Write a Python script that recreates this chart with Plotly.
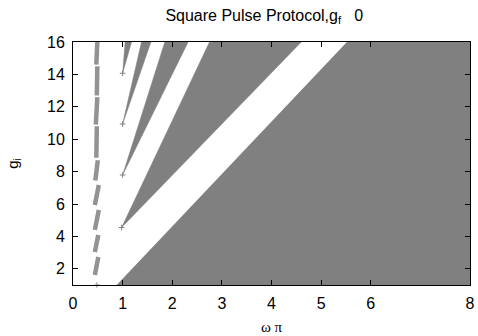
import plotly.graph_objects as go

# wedge regions: tip (x, g) and top edges at g = 16
wedge_tip_x = [1.0, 1.0, 1.0, 0.98]
wedge_tip_g = [14.07, 10.94, 7.79, 4.55]
wedge_top_left = [1.05, 1.38, 1.85, 2.75]
wedge_top_right = [1.18, 1.57, 2.32, 4.60]

# large region at right: lower-left start and top-left edge
big_start = (0.88, 1.0)
big_top_left = 5.52

# jagged column near w/pi ~ 0.45: segments (x_bottom, g_bottom, x_top, g_top)
col_x0 = [0.44, 0.44, 0.44, 0.44, 0.45, 0.47, 0.46, 0.48, 0.47]
col_g0 = [1.62, 3.04, 4.40, 5.94, 7.45, 8.85, 10.9, 12.7, 14.6]
col_x1 = [0.51, 0.51, 0.52, 0.52, 0.50, 0.48, 0.49, 0.49, 0.49]
col_g1 = [2.73, 4.09, 5.63, 7.17, 8.70, 10.8, 12.6, 14.5, 16.0]

x_ticks = [0, 1, 2, 3, 4, 5, 6, 8]
y_ticks = [2, 4, 6, 8, 10, 12, 14, 16]
x_range = [0, 8]
y_range = [1, 16]

GRAY = "#808080"
COL = "#939393"
SANS = "Liberation Sans, Arial, sans-serif"

fig = go.Figure()

# big region
fig.add_trace(go.Scatter(
    x=[big_start[0], big_top_left, x_range[1], x_range[1], big_start[0]],
    y=[big_start[1], y_range[1], y_range[1], y_range[0], big_start[1]],
    fill="toself", fillcolor=GRAY, mode="lines", line=dict(width=0, color=GRAY),
    hoverinfo="skip", showlegend=False))

for tx, tg, tl, tr in zip(wedge_tip_x, wedge_tip_g, wedge_top_left, wedge_top_right):
    fig.add_trace(go.Scatter(
        x=[tx, tl, tr, tx], y=[tg, y_range[1], y_range[1], tg],
        fill="toself", fillcolor=GRAY, mode="lines", line=dict(width=0.5, color=GRAY),
        hoverinfo="skip", showlegend=False))

# tip markers
fig.add_trace(go.Scatter(
    x=wedge_tip_x, y=wedge_tip_g, mode="markers",
    marker=dict(symbol="cross-thin", size=4, line=dict(width=1, color=GRAY)),
    hoverinfo="skip", showlegend=False))

for x0, g0, x1, g1 in zip(col_x0, col_g0, col_x1, col_g1):
    fig.add_trace(go.Scatter(
        x=[x0, x1], y=[g0, g1], mode="lines",
        line=dict(width=4.5, color=COL), hoverinfo="skip", showlegend=False))

# lone point at the bottom
fig.add_trace(go.Scatter(
    x=[0.48], y=[1.0], mode="markers",
    marker=dict(symbol="cross-thin", size=4, line=dict(width=1, color=COL)),
    hoverinfo="skip", showlegend=False, cliponaxis=False))

axis_common = dict(
    showgrid=False, zeroline=False, showline=True, linecolor="black", linewidth=1,
    mirror="allticks", ticks="inside", ticklen=5, tickcolor="black",
    ticklabelstandoff=4, automargin=False,
    tickfont=dict(family=SANS, size=16, color="black"),
)

fig.update_layout(
    width=478, height=336,
    margin=dict(l=73, r=8, t=42, b=51),
    paper_bgcolor="white", plot_bgcolor="white",
    title=dict(text="Square Pulse Protocol,g<sub>f</sub>\u00a0\u00a0\u00a00",
               x=0.553, xanchor="center", y=0.955, yanchor="middle",
               font=dict(family=SANS, size=16, color="black")),
    xaxis=dict(range=x_range, tickvals=x_ticks, ticktext=[str(v) for v in x_ticks],
               title=dict(text="\u03c9\u00a0\u03c0", standoff=10,
                          font=dict(family="Liberation Serif, Times New Roman, serif", size=15, color="black")),
               **axis_common),
    yaxis=dict(range=y_range, tickvals=y_ticks, ticktext=[str(v) for v in y_ticks],
               title=dict(text="g<sub>i</sub>", standoff=24,
                          font=dict(family=SANS, size=15, color="black")),
               **axis_common),
)

fig.write_html("out.html")
